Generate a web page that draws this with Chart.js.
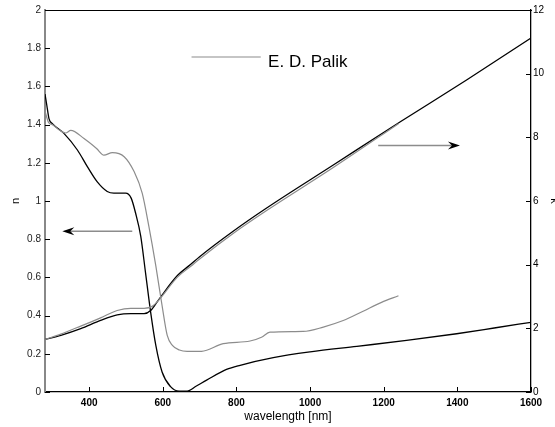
<!DOCTYPE html>
<html>
<head>
<meta charset="utf-8">
<script src="https://cdn.jsdelivr.net/npm/chart.js@4"></script>
<style>
  body { margin: 0; background: #fff; }
</style>
</head>
<body>
<canvas id="graf" width="555" height="427"></canvas>
<script>
// n - model (black)
var wlN = [280, 285, 291, 300, 332, 368, 395, 422, 449, 467, 499, 514, 526, 540, 553, 567, 581, 598, 621, 644, 666, 690, 719, 773, 810, 900, 1000, 1127, 1262, 1398, 1500, 1600];
var nModel = [1.56, 1.5, 1.43, 1.405, 1.353, 1.267, 1.18, 1.1, 1.05, 1.041, 1.041, 1.015, 0.937, 0.816, 0.625, 0.417, 0.244, 0.105, 0.028, 0.005, 0.005, 0.03, 0.062, 0.118, 0.14, 0.18, 0.21, 0.239, 0.27, 0.305, 0.335, 0.365];

// n - E. D. Palik (gray)
var wlNPalik = [280, 290, 300, 320, 336, 350, 386, 420, 440, 463, 495, 522, 544, 562, 581, 598, 612, 626, 645, 666, 705, 764, 837, 868, 891, 981, 1036, 1090, 1144, 1194, 1240];
var nPalik = [1.47, 1.41, 1.4, 1.37, 1.356, 1.37, 1.327, 1.275, 1.24, 1.253, 1.232, 1.154, 1.041, 0.868, 0.66, 0.452, 0.296, 0.244, 0.22, 0.213, 0.213, 0.253, 0.267, 0.287, 0.313, 0.317, 0.34, 0.374, 0.423, 0.469, 0.504];

// k - model (black)
var wlK = [280, 323, 377, 431, 476, 513, 549, 567, 590, 639, 676, 700, 791, 882, 1063, 1244, 1425, 1600];
var kModel = [1.65, 1.78, 1.99, 2.25, 2.42, 2.46, 2.46, 2.56, 2.92, 3.65, 4.01, 4.25, 5.05, 5.78, 7.13, 8.48, 9.8, 11.12];

// k - E. D. Palik (gray)
var wlKPalik = [280, 323, 377, 431, 476, 513, 549, 571, 590, 639, 676, 700, 791, 882, 1063, 1240];
var kPalik = [1.65, 1.82, 2.07, 2.33, 2.56, 2.63, 2.63, 2.69, 2.9, 3.6, 3.95, 4.18, 4.98, 5.7, 7.05, 8.43];

var xTicks = [400, 600, 800, 1000, 1200, 1400, 1600];
var nTicks = [0, 0.2, 0.4, 0.6, 0.8, 1, 1.2, 1.4, 1.6, 1.8, 2];
var kTicks = [0, 2, 4, 6, 8, 10, 12];

// popisky v grafu (souradnice v jednotkach os)
var palikKey = { x1: 678, x2: 866, xText: 886, n: 1.754 };
var arrowN = { from: 517, to: 327, n: 0.842 };
var arrowK = { from: 1185, to: 1407, k: 7.74 };

var sedá = "#8c8c8c";
var font = "'Liberation Sans', Arial, sans-serif";

function body(wl, hodnoty) {
  return wl.map(function (w, i) {
    return { x: w, y: hodnoty[i] };
  });
}

function setTicks(hodnoty) {
  return function (scale) {
    scale.ticks = hodnoty.map(function (v) {
      return { value: v };
    });
  };
}

function popis(v) {
  return String(v);
}

function arrow(ctx, x1, x2, y) {
  var d = x2 > x1 ? 1 : -1;
  ctx.strokeStyle = sedá;
  ctx.lineWidth = 1.5;
  ctx.beginPath();
  ctx.moveTo(x1, y);
  ctx.lineTo(x2 - d * 8, y);
  ctx.stroke();
  ctx.fillStyle = "#000";
  ctx.beginPath();
  ctx.moveTo(x2, y);
  ctx.lineTo(x2 - d * 12, y - 4);
  ctx.lineTo(x2 - d * 8, y);
  ctx.lineTo(x2 - d * 12, y + 4);
  ctx.closePath();
  ctx.fill();
}

// tiky dovnitr, legenda a sipky
var doplnky = {
  id: "doplnky",
  afterDraw: function (chart) {
    var ctx = chart.ctx;
    var a = chart.chartArea;
    var sx = chart.scales.x, sn = chart.scales.y, sk = chart.scales.y1;
    ctx.save();
    ctx.strokeStyle = "#000";
    ctx.lineWidth = 1;
    ctx.beginPath();
    xTicks.forEach(function (v) {
      var px = Math.round(sx.getPixelForValue(v)) + 0.5;
      ctx.moveTo(px, a.bottom);
      ctx.lineTo(px, a.bottom - 5);
    });
    nTicks.forEach(function (v) {
      var py = Math.round(sn.getPixelForValue(v)) + 0.5;
      ctx.moveTo(a.left, py);
      ctx.lineTo(a.left + 5, py);
    });
    kTicks.forEach(function (v) {
      var py = Math.round(sk.getPixelForValue(v)) + 0.5;
      ctx.moveTo(a.right, py);
      ctx.lineTo(a.right - 5, py);
    });
    ctx.stroke();

    var ly = sn.getPixelForValue(palikKey.n);
    ctx.strokeStyle = sedá;
    ctx.lineWidth = 1.2;
    ctx.beginPath();
    ctx.moveTo(sx.getPixelForValue(palikKey.x1), ly);
    ctx.lineTo(sx.getPixelForValue(palikKey.x2), ly);
    ctx.stroke();
    ctx.fillStyle = "#000";
    ctx.font = "17px " + font;
    ctx.textBaseline = "middle";
    ctx.fillText("E. D. Palik", sx.getPixelForValue(palikKey.xText), ly + 5);

    arrow(ctx, sx.getPixelForValue(arrowN.from), sx.getPixelForValue(arrowN.to), sn.getPixelForValue(arrowN.n));
    arrow(ctx, sx.getPixelForValue(arrowK.from), sx.getPixelForValue(arrowK.to), sk.getPixelForValue(arrowK.k));
    ctx.restore();
  }
};

let graf = document.getElementById("graf").getContext("2d");
let SF = new Chart(graf, {
  type: "line",
  data: {
    datasets: [
      { label: "n Palik", data: body(wlNPalik, nPalik), yAxisID: "y", borderColor: sedá, borderWidth: 1.2 },
      { label: "k Palik", data: body(wlKPalik, kPalik), yAxisID: "y1", borderColor: sedá, borderWidth: 1.2 },
      { label: "n", data: body(wlN, nModel), yAxisID: "y", borderColor: "#000", borderWidth: 1.3 },
      { label: "k", data: body(wlK, kModel), yAxisID: "y1", borderColor: "#000", borderWidth: 1.3 }
    ]
  },
  options: {
    responsive: false,
    animation: false,
    devicePixelRatio: 1,
    layout: { padding: 0 },
    elements: {
      point: { radius: 0 },
      line: { cubicInterpolationMode: "monotone", fill: false }
    },
    plugins: { legend: { display: false }, tooltip: { enabled: false } },
    scales: {
      x: {
        type: "linear",
        position: "bottom",
        min: 280,
        max: 1600,
        afterBuildTicks: setTicks(xTicks),
        afterFit: function (s) { s.height = 35; },
        grid: { display: false, drawTicks: false },
        border: { color: "#000", width: 1.3 },
        ticks: { padding: 5, color: "#000", font: { family: font, size: 10, weight: "bold" }, maxRotation: 0, callback: popis },
        title: { display: true, text: "wavelength [nm]", color: "#000", font: { family: font, size: 12 }, padding: { top: 0, bottom: 3 } }
      },
      x2: {
        type: "linear",
        position: "top",
        min: 280,
        max: 1600,
        afterFit: function (s) { s.height = 7; },
        grid: { display: false, drawTicks: false },
        border: { color: "#000", width: 1 },
        ticks: { display: false }
      },
      y: {
        type: "linear",
        position: "left",
        min: 0,
        max: 2,
        afterBuildTicks: setTicks(nTicks),
        afterFit: function (s) { s.width = 45; },
        grid: { display: false, drawTicks: false },
        border: { color: "#888", width: 2 },
        ticks: { padding: 4, color: "#222", font: { family: font, size: 10 }, callback: popis },
        title: { display: true, text: "n", color: "#000", font: { family: font, size: 11 }, padding: { top: 9, bottom: 0 } }
      },
      y1: {
        type: "linear",
        position: "right",
        min: 0,
        max: 12,
        afterBuildTicks: setTicks(kTicks),
        afterFit: function (s) { s.width = 24; },
        grid: { display: false, drawTicks: false },
        border: { color: "#000", width: 1.3 },
        ticks: { padding: 2, color: "#000", font: { family: font, size: 10 }, callback: popis },
        title: { display: true, text: "k", color: "#000", font: { family: font, size: 11 }, padding: { top: -6, bottom: 0 } }
      }
    }
  },
  plugins: [doplnky]
});
</script>
</body>
</html>
